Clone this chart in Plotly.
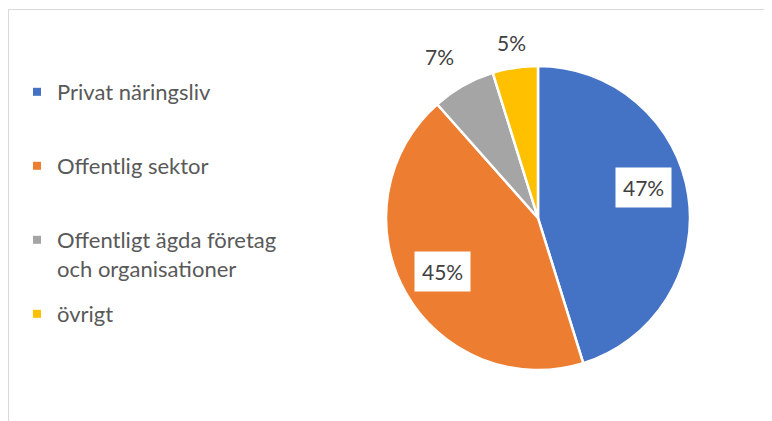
import math
import plotly.graph_objects as go

# ---- data ----
categories = ["Privat näringsliv", "Offentlig sektor",
              "Offentligt ägda företag<br>och organisationer", "övrigt"]
values = [47, 45, 7, 5]
colors = ["#4472C4", "#ED7D31", "#A5A5A5", "#FFC000"]

# ---- layout constants (style, not data); page body adds an 8px offset ----
W, H = 772, 421
OFF = 8
CX, CY, R = 538 - OFF, 218 - OFF, 152     # pie centre / radius in figure px
label_r = [0.70, 0.72, 1.23, 1.15]        # label distance as fraction of radius
label_nudge = [(0, -14), (0, 0), (-7, 1), (0, -3)]
label_box = [True, True, False, False]
legend_text_y = [92 - OFF, 166 - OFF, 240 - OFF, 314 - OFF]
FONT = "Lato"
LEG_SIZE = 22

fig = go.Figure()
fig.add_trace(go.Pie(
    labels=categories, values=values, sort=False, direction="clockwise",
    rotation=0, textinfo="none", showlegend=False,
    marker=dict(colors=colors, line=dict(color="white", width=2.5)),
    domain=dict(x=[(CX - R) / W, (CX + R) / W],
                y=[1 - (CY + R) / H, 1 - (CY - R) / H]),
    hoverinfo="label+value",
))

# legend entries (one legend per entry to mimic even spacing)
for i, (cat, col) in enumerate(zip(categories, colors)):
    lname = "legend" if i == 0 else f"legend{i + 1}"
    fig.add_trace(go.Scatter(
        x=[None], y=[None], mode="markers", name=cat,
        marker=dict(symbol="square", size=8, color=col),
        legend=lname, showlegend=True, hoverinfo="skip",
    ))
    fig.update_layout(**{lname: dict(
        x=9 / W, xanchor="left", y=1 - (legend_text_y[i] - 21) / H, yanchor="top",
        valign="top", bgcolor="rgba(0,0,0,0)", borderwidth=0,
        font=dict(family=FONT, size=LEG_SIZE, color="#595959"),
        itemclick=False, itemdoubleclick=False,
    )})

# data labels computed from the slice angles
total = sum(values)
cum = 0
for i, v in enumerate(values):
    mid = (cum + v / 2) / total * 2 * math.pi
    cum += v
    px = CX + label_r[i] * R * math.sin(mid) + label_nudge[i][0]
    py = CY - label_r[i] * R * math.cos(mid) + label_nudge[i][1]
    fig.add_annotation(
        x=px / W, y=1 - py / H, xref="paper", yref="paper",
        text=f"{v}%", showarrow=False,
        font=dict(family=FONT, size=21, color="#404040"),
        bgcolor="white" if label_box[i] else "rgba(0,0,0,0)",
        borderpad=7 if label_box[i] else 0,
        xanchor="center", yanchor="middle",
    )

# chart frame (only top/left visible in the crop)
fig.add_shape(type="rect", xref="paper", yref="paper",
              x0=0.5 / W, x1=1.05, y0=-0.05, y1=1 - 1.5 / H,
              line=dict(color="#D9D9D9", width=1), fillcolor="rgba(0,0,0,0)",
              layer="below")

fig.update_layout(
    width=W, height=H, margin=dict(l=0, r=0, t=0, b=0),
    paper_bgcolor="white", plot_bgcolor="white",
    xaxis=dict(visible=False), yaxis=dict(visible=False),
    font=dict(family=FONT),
)
fig.write_html("out.html")
